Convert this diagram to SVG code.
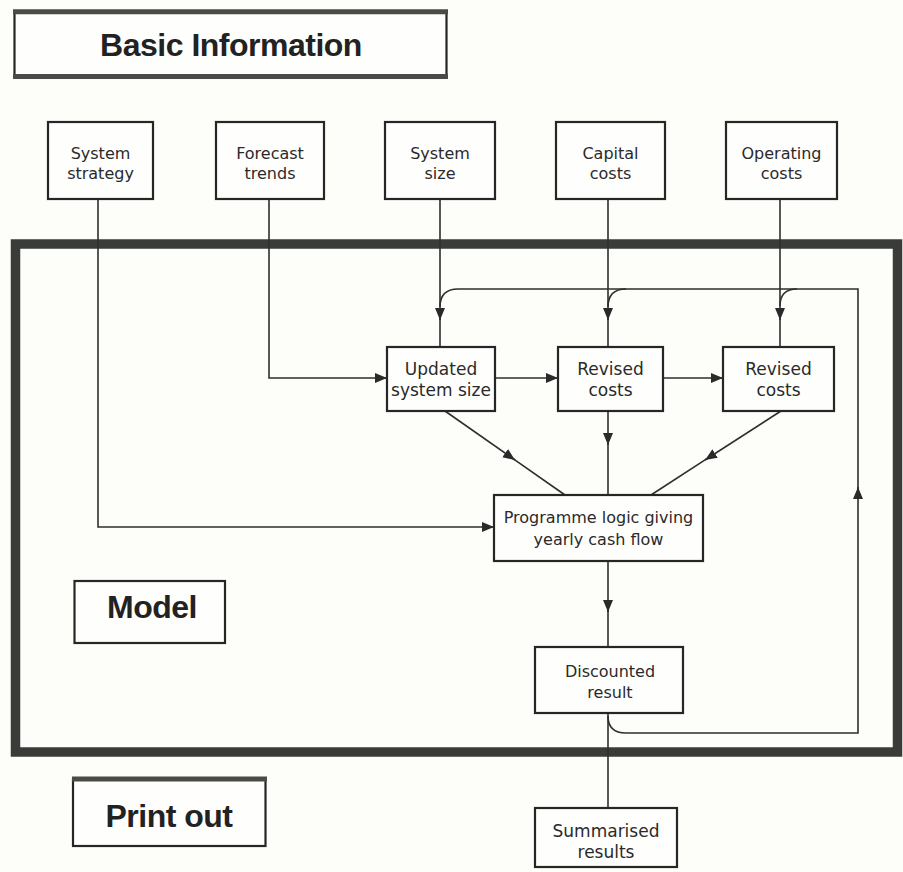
<svg xmlns="http://www.w3.org/2000/svg" width="903" height="872" viewBox="0 0 903 872">
<defs>
<marker id="arr" viewBox="0 0 12 10" refX="12" refY="5" markerUnits="userSpaceOnUse" markerWidth="12" markerHeight="11" orient="auto">
<path d="M0,0 L12,5 L0,10 z" fill="#2a2a2a"/>
</marker>
<style>
.box{fill:#fefefc;stroke:#262626;stroke-width:2.2}
.t{font-family:"DejaVu Sans","Liberation Sans",sans-serif;font-size:16px;fill:#2a2a2a;text-anchor:middle}
.tm{font-family:"DejaVu Sans","Liberation Sans",sans-serif;font-size:17px;fill:#2a2a2a;text-anchor:middle}
.big{font-family:"Liberation Sans",Arial,sans-serif;font-weight:bold;font-size:32px;fill:#222;text-anchor:middle;letter-spacing:-0.5px}
.c{fill:none;stroke:#2e2e2e;stroke-width:1.6}
.bar{stroke:#4a4a48;stroke-width:5}
</style>
</defs>
<rect width="903" height="872" fill="#fdfdfa"/>

<g id="basic-information">
<rect x="14.5" y="12" width="432" height="65" class="box" stroke-width="2.5"/>
<line x1="13" y1="11.8" x2="448" y2="11.8" class="bar"/>
<line x1="13" y1="76.5" x2="448" y2="76.5" class="bar"/>
<text x="231" y="56" class="big">Basic Information</text>
</g>

<g id="model-frame">
<rect x="15.5" y="244" width="882" height="508" fill="none" stroke="#3a3c3a" stroke-width="9.5"/>
</g>

<g id="model-label">
<rect x="74.5" y="581" width="150.5" height="62" class="box"/>
<text x="152" y="618" class="big">Model</text>
</g>

<g id="print-out-label">
<rect x="73" y="779" width="192.5" height="67" class="box" stroke-width="2.5"/>
<line x1="72" y1="779" x2="267" y2="779" class="bar" stroke-width="4"/>
<text x="169" y="827" class="big" font-size="31">Print out</text>
</g>

<g id="connectors">
<path class="c" d="M98,199 V527 H494" marker-end="url(#arr)"/>
<path class="c" d="M269,199 V378 H387" marker-end="url(#arr)"/>
<path class="c" d="M440,199 V320" marker-end="url(#arr)"/>
<path class="c" d="M440,318 V347"/>
<path class="c" d="M608,199 V320" marker-end="url(#arr)"/>
<path class="c" d="M608,318 V347"/>
<path class="c" d="M780,199 V320" marker-end="url(#arr)"/>
<path class="c" d="M780,318 V347"/>
<path class="c" d="M495,378 H558" marker-end="url(#arr)"/>
<path class="c" d="M663,378 H723" marker-end="url(#arr)"/>
<path class="c" d="M445,411 L515,460" marker-end="url(#arr)"/>
<path class="c" d="M513,458.6 L565,495"/>
<path class="c" d="M608,411 V445" marker-end="url(#arr)"/>
<path class="c" d="M608,443 V495"/>
<path class="c" d="M781,411 L705,460" marker-end="url(#arr)"/>
<path class="c" d="M707,458.7 L651,495"/>
<path class="c" d="M608,561 V612" marker-end="url(#arr)"/>
<path class="c" d="M608,610 V647"/>
<path class="c" d="M608,713 V808"/>
<path class="c" d="M608,716 Q608,733 626,733 H858 V487" marker-end="url(#arr)"/>
<path class="c" d="M858,489 V289 H458 Q440,289 440,307"/>
<path class="c" d="M626,289 Q608,289 608,307"/>
<path class="c" d="M797,289 Q780,289 780,306"/>
</g>

<g id="system-strategy">
<rect x="48" y="122" width="105" height="77" class="box"/>
<text x="100.5" y="159" class="t">System</text>
<text x="100.5" y="179" class="t">strategy</text>
</g>
<g id="forecast-trends">
<rect x="216" y="122" width="108" height="77" class="box"/>
<text x="270" y="159" class="t">Forecast</text>
<text x="270" y="179" class="t">trends</text>
</g>
<g id="system-size">
<rect x="385" y="122" width="110" height="77" class="box"/>
<text x="440" y="159" class="t">System</text>
<text x="440" y="179" class="t">size</text>
</g>
<g id="capital-costs">
<rect x="556" y="122" width="109" height="77" class="box"/>
<text x="610.5" y="159" class="t">Capital</text>
<text x="610.5" y="179" class="t">costs</text>
</g>
<g id="operating-costs">
<rect x="726" y="122" width="111" height="77" class="box"/>
<text x="781.5" y="159" class="t">Operating</text>
<text x="781.5" y="179" class="t">costs</text>
</g>

<g id="updated-system-size">
<rect x="387" y="347" width="108" height="64" class="box"/>
<text x="441" y="375" class="tm">Updated</text>
<text x="441" y="396" class="tm">system size</text>
</g>
<g id="revised-costs-1">
<rect x="558" y="347" width="105" height="64" class="box"/>
<text x="610.5" y="375" class="tm">Revised</text>
<text x="610.5" y="396" class="tm">costs</text>
</g>
<g id="revised-costs-2">
<rect x="723" y="347" width="111" height="64" class="box"/>
<text x="778.5" y="375" class="tm">Revised</text>
<text x="778.5" y="396" class="tm">costs</text>
</g>

<g id="programme-logic">
<rect x="494" y="495" width="209" height="66" class="box"/>
<text x="598.5" y="523" class="t">Programme logic giving</text>
<text x="598.5" y="545" class="t">yearly cash flow</text>
</g>

<g id="discounted-result">
<rect x="535" y="647" width="148" height="66" class="box"/>
<text x="610" y="677" class="t">Discounted</text>
<text x="610" y="698" class="t">result</text>
</g>

<g id="summarised-results">
<rect x="535" y="808" width="142" height="59" class="box"/>
<text x="606" y="837" class="tm">Summarised</text>
<text x="606" y="858" class="tm">results</text>
</g>
</svg>
